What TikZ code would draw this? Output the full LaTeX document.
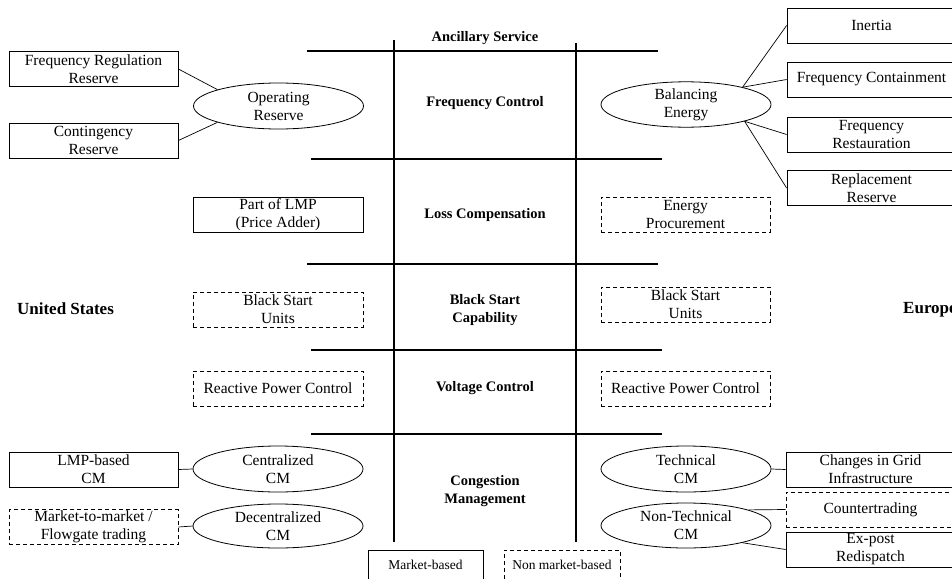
\documentclass[tikz,border=0pt]{standalone}
\usepackage{fontspec}
\setmainfont{Liberation Serif}
\usetikzlibrary{shapes.geometric}
\begin{document}
\begin{tikzpicture}[x=1pt,y=-1pt,
  every node/.style={font=\fontsize{15.5}{18}\selectfont, align=center, inner sep=0pt},
  sbox/.style={draw, line width=0.8pt, minimum width=169pt, minimum height=35pt},
  dbox/.style={sbox, dash pattern=on 4pt off 3pt},
  oval/.style={draw, ellipse, line width=0.8pt, minimum width=170pt, minimum height=45pt},
  head/.style={font=\bfseries\fontsize{14.5}{18}\selectfont},
  region/.style={font=\bfseries\fontsize{17}{20}\selectfont},
  legend/.style={font=\fontsize{13.5}{16}\selectfont, draw, line width=0.8pt, minimum height=30pt},
  gridline/.style={line width=1.4pt},
  link/.style={line width=0.7pt}]
\useasboundingbox (0,0) rectangle (952,578);
\clip (0,0) rectangle (952,578);

% grid
\draw[gridline] (307,51) -- (658,51);
\draw[gridline] (311,159) -- (662,159);
\draw[gridline] (307,264) -- (658,264);
\draw[gridline] (311,350) -- (662,350);
\draw[gridline] (311,434) -- (662,434);
\draw[gridline] (394,40) -- (394,542);
\draw[gridline] (576,43) -- (576,542);

% center headings
\node[head] (anc) at (485,38) {Ancillary Service};
\node[head] (fc) at (485,103) {Frequency Control};
\node[head] (lc) at (485,215) {Loss Compensation};
\node[head] (bs) at (485,310.5) {Black Start\\Capability};
\node[head] (vc) at (485,388) {Voltage Control};
\node[head] (cm) at (485,491) {Congestion\\Management};

% regions
\node[region] (us) at (65.5,309) {United States};
\node[region, anchor=west] (eu) at (903,310) {Europe};

% left side
\node[sbox] (frr) at (93.5,69) {Frequency Regulation\\Reserve};
\node[sbox] (cont) at (93.5,140.5) {Contingency\\Reserve};
\node[oval, minimum height=46pt] (or) at (278.5,106) {Operating\\Reserve};
\draw[link] (frr.east) -- (or.165);
\draw[link] (cont.east) -- (or.195);

\node[sbox, minimum width=170pt] (plmp) at (278,214.5) {Part of LMP\\(Price Adder)};
\node[dbox, minimum width=170pt] (bsu) at (278,309.5) {Black Start\\Units};
\node[dbox, minimum width=170pt] (rpc) at (278,388.5) {Reactive Power Control};

\node[sbox] (lmp) at (93.5,469.5) {LMP-based\\CM};
\node[dbox] (m2m) at (93.5,527) {Market-to-market /\\Flowgate trading};
\node[oval, minimum height=46pt] (cen) at (278,469) {Centralized\\CM};
\node[oval, minimum height=44pt] (dec) at (278,526) {Decentralized\\CM};
\draw[link] (lmp.east) -- (cen.west);
\draw[link] (m2m.east) -- (dec.west);

% right side
\node[oval, minimum height=43pt] (be) at (686,104.5) {Balancing\\Energy};
\node[sbox] (inertia) at (871.5,25.5) {Inertia};
\node[sbox] (fcr) at (871.5,79.5) {Frequency Containment};
\node[sbox] (frs) at (871.5,134.5) {Frequency\\Restauration};
\node[sbox] (rr) at (871.5,188) {Replacement\\Reserve};
\draw[link] (be.17) -- (inertia.west);
\draw[link] (be.17) -- (fcr.west);
\draw[link] (be.-16) -- (frs.west);
\draw[link] (be.-16) -- (rr.west);

\node[dbox] (ep) at (685.5,214.5) {Energy\\Procurement};
\node[dbox] (bsu2) at (685.5,304.5) {Black Start\\Units};
\node[dbox] (rpc2) at (685.5,388.5) {Reactive Power Control};

\node[oval, minimum height=46pt] (tech) at (686,469) {Technical\\CM};
\node[oval, minimum height=45pt] (ntech) at (686,525.5) {Non-Technical\\CM};
\node[sbox] (chg) at (870.5,469.5) {Changes in Grid\\Infrastructure};
\node[dbox] (ctr) at (870.5,509.5) {Countertrading};
\node[sbox] (exp) at (870.5,549.5) {Ex-post\\Redispatch};
\draw[link] (tech.east) -- (chg.west);
\draw[link] (ntech.14) -- (ctr.west);
\draw[link] (ntech.-17) -- (exp.west);

% legend
\node[legend, minimum width=115pt] (mb) at (425.5,565) {Market-based};
\node[legend, minimum width=116pt, dash pattern=on 4pt off 3pt] (nmb) at (562,565) {Non market-based};
\end{tikzpicture}
\end{document}
